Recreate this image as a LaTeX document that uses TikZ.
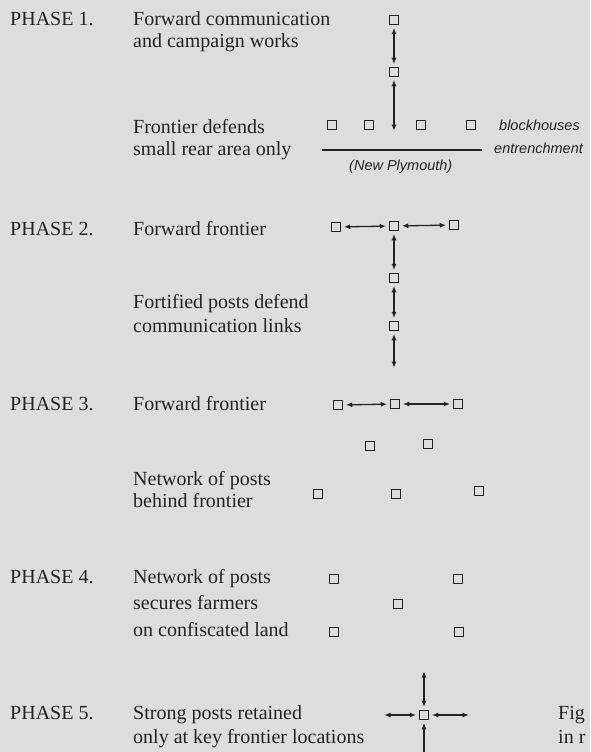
\documentclass[tikz,border=0pt]{standalone}
\usepackage{fontspec}
\setmainfont{Liberation Serif}
\newfontfamily\labfont{Liberation Sans}
\usetikzlibrary{arrows.meta}
\definecolor{paper}{RGB}{221,221,220}
\definecolor{ink}{RGB}{35,35,35}
\begin{document}
\begin{tikzpicture}[x=1pt,y=-1pt,
  post/.style={draw=ink, line width=1.4pt, minimum size=9.5pt, inner sep=0pt, outer sep=0pt},
  txt/.style={anchor=base west, inner sep=0pt, text=ink, font=\fontsize{20}{23}\selectfont},
  lab/.style={anchor=base west, inner sep=0pt, text=ink, font=\labfont\itshape\fontsize{14.5}{17}\selectfont},
  link/.style={draw=ink, line width=1.3pt, {Latex[length=6.5pt,width=5pt]}-{Latex[length=6.5pt,width=5pt]}, shorten <=3pt, shorten >=3pt},
  freelink/.style={draw=ink, line width=1.3pt, {Latex[length=6.5pt,width=5pt]}-{Latex[length=6.5pt,width=5pt]}, shorten <=3pt}
]
\fill[paper] (0,0) rectangle (590,752);
\useasboundingbox (0,0) rectangle (590,752);

% ---------- Phase 1
\node[txt] (p1) at (10,26) {PHASE 1.};
\node[txt] (p1a) at (133,26) {Forward communication};
\node[txt] (p1b) at (133,48) {and campaign works};
\node[txt] (p1c) at (133,133) {Frontier defends};
\node[txt] (p1d) at (133,155) {small rear area only};
\node[post] (a1) at (394,20) {};
\node[post] (a2) at (394,72) {};
\coordinate (a3) at (394,131);
\draw[link] (a1) -- (a2);
\draw[freelink] (a2) -- (a3);
\node[post] (b1) at (332,125) {};
\node[post] (b2) at (369,125) {};
\node[post] (b3) at (421,125) {};
\node[post] (b4) at (471,125) {};
\node[lab] (bl) at (499,130) {blockhouses};
\coordinate (e1) at (322,150);
\coordinate (e2) at (482,150);
\draw[ink, line width=1.3pt] (e1) -- (e2);
\node[lab] (en) at (494,153) {entrenchment};
\node[lab] (np) at (349,170) {(New Plymouth)};

% ---------- Phase 2
\node[txt] (p2) at (10,235) {PHASE 2.};
\node[txt] (p2a) at (133,235) {Forward frontier};
\node[txt] (p2b) at (133,308) {Fortified posts defend};
\node[txt] (p2c) at (133,332) {communication links};
\node[post] (c1) at (336,227) {};
\node[post] (c2) at (394,226) {};
\node[post] (c3) at (454,225) {};
\node[post] (c4) at (394,278) {};
\node[post] (c5) at (394,326) {};
\coordinate (c6) at (394,368);
\draw[link] (c1) -- (c2);
\draw[link] (c2) -- (c3);
\draw[link] (c2) -- (c4);
\draw[link] (c4) -- (c5);
\draw[freelink] (c5) -- (c6);

% ---------- Phase 3
\node[txt] (p3) at (10,410) {PHASE 3.};
\node[txt] (p3a) at (133,410) {Forward frontier};
\node[txt] (p3b) at (133,485) {Network of posts};
\node[txt] (p3c) at (133,507) {behind frontier};
\node[post] (d1) at (338,405) {};
\node[post] (d2) at (395,404) {};
\node[post] (d3) at (458,404) {};
\draw[link] (d1) -- (d2);
\draw[link] (d2) -- (d3);
\node[post] (d4) at (370,446) {};
\node[post] (d5) at (428,444) {};
\node[post] (d6) at (318,494) {};
\node[post] (d7) at (396,494) {};
\node[post] (d8) at (479,491) {};

% ---------- Phase 4
\node[txt] (p4) at (10,583) {PHASE 4.};
\node[txt] (p4a) at (133,583) {Network of posts};
\node[txt] (p4b) at (133,609) {secures farmers};
\node[txt] (p4c) at (133,636) {on confiscated land};
\node[post] (f1) at (334,579) {};
\node[post] (f2) at (458,579) {};
\node[post] (f3) at (398,604) {};
\node[post] (f4) at (334,632) {};
\node[post] (f5) at (459,632) {};

% ---------- Phase 5
\node[txt] (p5) at (10,719) {PHASE 5.};
\node[txt] (p5a) at (133,719) {Strong posts retained};
\node[txt] (p5b) at (133,743) {only at key frontier locations};
\node[post] (g0) at (424,715) {};
\coordinate (gu) at (424,671);
\coordinate (gl) at (384,715);
\coordinate (gr) at (469,715);
\coordinate (gd) at (424,762);
\draw[freelink] (g0) -- (gu);
\draw[freelink] (g0) -- (gl);
\draw[freelink] (g0) -- (gr);
\draw[freelink] (g0) -- (gd);

\node[txt] (fg1) at (558,719) {Fig};
\node[txt] (fg2) at (558,743) {in r};
\end{tikzpicture}
\end{document}
